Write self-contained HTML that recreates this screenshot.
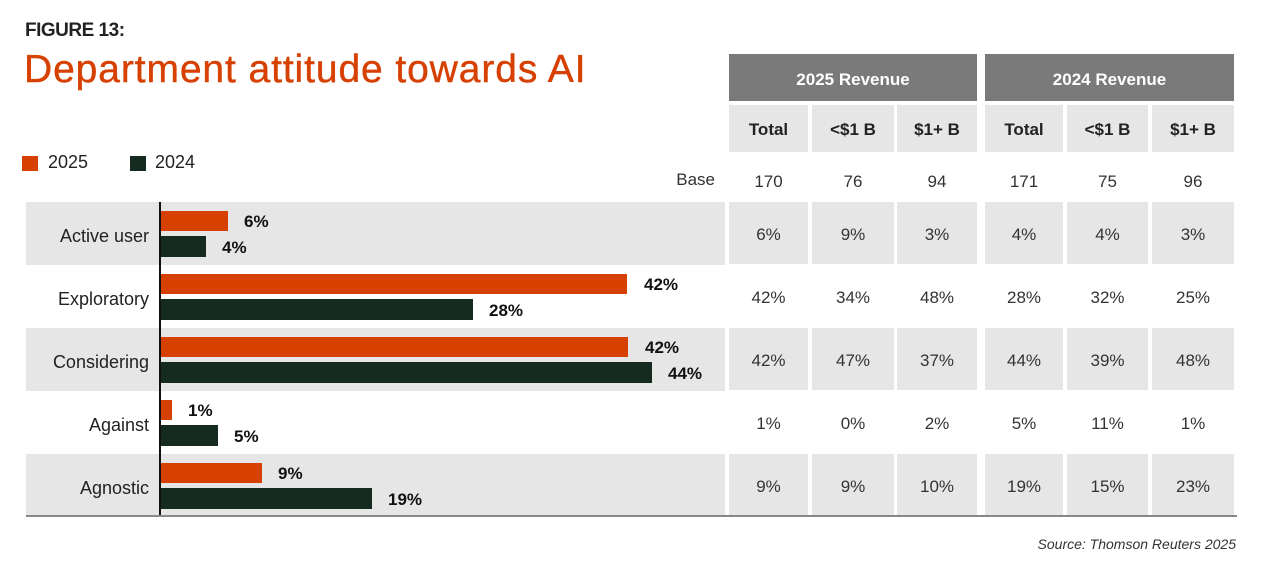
<!DOCTYPE html>
<html><head><meta charset="utf-8"><style>
body{margin:0;width:1280px;height:578px;background:#fff;font-family:"Liberation Sans",sans-serif;position:relative;overflow:hidden;color:#222}
div{position:absolute;box-sizing:border-box}
.band{left:26px;width:699px;height:63px;background:#e6e6e6}
.cell{background:#e6e6e6;display:flex;align-items:center;justify-content:center;font-size:17px;color:#333;padding-top:3px}
.hd{background:#7a7a7a;color:#fff;font-weight:bold;font-size:17px;display:flex;align-items:center;justify-content:center;height:47px;top:54px;padding-top:5px}
.sh{font-weight:bold;color:#222}
.t{display:flex;align-items:center;justify-content:center;font-size:17px;color:#333;padding-top:3px}
.cat{right:1131px;font-size:18px;color:#222;height:63px;display:flex;align-items:center;padding-top:4px}
.o{background:#d64000;height:20px}
.g{background:#152b20;height:21px}
.lb{font-weight:bold;font-size:17px;color:#111;line-height:20px}
</style></head><body>
<div style="left:25px;top:20px;font-size:19px;font-weight:bold;letter-spacing:-0.5px;color:#222">FIGURE 13:</div>
<div style="left:24px;top:48px;font-size:39px;color:#d64000;letter-spacing:0.9px;-webkit-text-stroke:0.4px #d64000">Department attitude towards AI</div>
<div style="left:22px;top:156px;width:16px;height:15px;background:#d64000"></div>
<div style="left:48px;top:152px;font-size:18px">2025</div>
<div style="left:130px;top:156px;width:16px;height:15px;background:#152b20"></div>
<div style="left:155px;top:152px;font-size:18px">2024</div>

<div class="hd" style="left:729px;width:248px">2025 Revenue</div>
<div class="hd" style="left:985px;width:249px">2024 Revenue</div>

<div class="cell sh" style="left:729px;top:105px;width:79px;height:47px">Total</div>
<div class="cell sh" style="left:812px;top:105px;width:82px;height:47px">&lt;$1 B</div>
<div class="cell sh" style="left:897px;top:105px;width:80px;height:47px">$1+ B</div>
<div class="cell sh" style="left:985px;top:105px;width:78px;height:47px">Total</div>
<div class="cell sh" style="left:1067px;top:105px;width:81px;height:47px">&lt;$1 B</div>
<div class="cell sh" style="left:1152px;top:105px;width:82px;height:47px">$1+ B</div>

<div style="left:600px;width:115px;top:170px;font-size:17px;text-align:right;color:#333">Base</div>
<div class="t" style="left:729px;top:166px;width:79px;height:28px">170</div>
<div class="t" style="left:812px;top:166px;width:82px;height:28px">76</div>
<div class="t" style="left:897px;top:166px;width:80px;height:28px">94</div>
<div class="t" style="left:985px;top:166px;width:78px;height:28px">171</div>
<div class="t" style="left:1067px;top:166px;width:81px;height:28px">75</div>
<div class="t" style="left:1152px;top:166px;width:82px;height:28px">96</div>

<div class="band" style="top:202px"></div>
<div class="band" style="top:328px"></div>
<div class="band" style="top:454px"></div>

<div class="cell" style="left:729px;top:202px;width:79px;height:62px">6%</div>
<div class="cell" style="left:812px;top:202px;width:82px;height:62px">9%</div>
<div class="cell" style="left:897px;top:202px;width:80px;height:62px">3%</div>
<div class="cell" style="left:985px;top:202px;width:78px;height:62px">4%</div>
<div class="cell" style="left:1067px;top:202px;width:81px;height:62px">4%</div>
<div class="cell" style="left:1152px;top:202px;width:82px;height:62px">3%</div>

<div class="t" style="left:729px;top:265px;width:79px;height:63px">42%</div>
<div class="t" style="left:812px;top:265px;width:82px;height:63px">34%</div>
<div class="t" style="left:897px;top:265px;width:80px;height:63px">48%</div>
<div class="t" style="left:985px;top:265px;width:78px;height:63px">28%</div>
<div class="t" style="left:1067px;top:265px;width:81px;height:63px">32%</div>
<div class="t" style="left:1152px;top:265px;width:82px;height:63px">25%</div>

<div class="cell" style="left:729px;top:328px;width:79px;height:62px">42%</div>
<div class="cell" style="left:812px;top:328px;width:82px;height:62px">47%</div>
<div class="cell" style="left:897px;top:328px;width:80px;height:62px">37%</div>
<div class="cell" style="left:985px;top:328px;width:78px;height:62px">44%</div>
<div class="cell" style="left:1067px;top:328px;width:81px;height:62px">39%</div>
<div class="cell" style="left:1152px;top:328px;width:82px;height:62px">48%</div>

<div class="t" style="left:729px;top:391px;width:79px;height:63px">1%</div>
<div class="t" style="left:812px;top:391px;width:82px;height:63px">0%</div>
<div class="t" style="left:897px;top:391px;width:80px;height:63px">2%</div>
<div class="t" style="left:985px;top:391px;width:78px;height:63px">5%</div>
<div class="t" style="left:1067px;top:391px;width:81px;height:63px">11%</div>
<div class="t" style="left:1152px;top:391px;width:82px;height:63px">1%</div>

<div class="cell" style="left:729px;top:454px;width:79px;height:62px">9%</div>
<div class="cell" style="left:812px;top:454px;width:82px;height:62px">9%</div>
<div class="cell" style="left:897px;top:454px;width:80px;height:62px">10%</div>
<div class="cell" style="left:985px;top:454px;width:78px;height:62px">19%</div>
<div class="cell" style="left:1067px;top:454px;width:81px;height:62px">15%</div>
<div class="cell" style="left:1152px;top:454px;width:82px;height:62px">23%</div>

<div class="cat" style="top:203px">Active user</div>
<div class="cat" style="top:266px">Exploratory</div>
<div class="cat" style="top:329px">Considering</div>
<div class="cat" style="top:392px">Against</div>
<div class="cat" style="top:455px">Agnostic</div>

<div class="o" style="left:161px;top:211px;width:67px"></div>
<div class="g" style="left:161px;top:236px;width:45px"></div>
<div class="lb" style="left:244px;top:212px">6%</div>
<div class="lb" style="left:222px;top:238px">4%</div>

<div class="o" style="left:161px;top:274px;width:466px"></div>
<div class="g" style="left:161px;top:299px;width:312px"></div>
<div class="lb" style="left:644px;top:275px">42%</div>
<div class="lb" style="left:489px;top:301px">28%</div>

<div class="o" style="left:161px;top:337px;width:467px"></div>
<div class="g" style="left:161px;top:362px;width:491px"></div>
<div class="lb" style="left:645px;top:338px">42%</div>
<div class="lb" style="left:668px;top:364px">44%</div>

<div class="o" style="left:161px;top:400px;width:11px"></div>
<div class="g" style="left:161px;top:425px;width:57px"></div>
<div class="lb" style="left:188px;top:401px">1%</div>
<div class="lb" style="left:234px;top:427px">5%</div>

<div class="o" style="left:161px;top:463px;width:101px"></div>
<div class="g" style="left:161px;top:488px;width:211px"></div>
<div class="lb" style="left:278px;top:464px">9%</div>
<div class="lb" style="left:388px;top:490px">19%</div>

<div style="left:159px;top:202px;width:2px;height:314px;background:#111"></div>
<div style="left:26px;top:515px;width:1211px;height:2px;background:#888"></div>

<div style="right:44px;top:536px;font-size:14px;font-style:italic;color:#333">Source: Thomson Reuters 2025</div>
</body></html>
